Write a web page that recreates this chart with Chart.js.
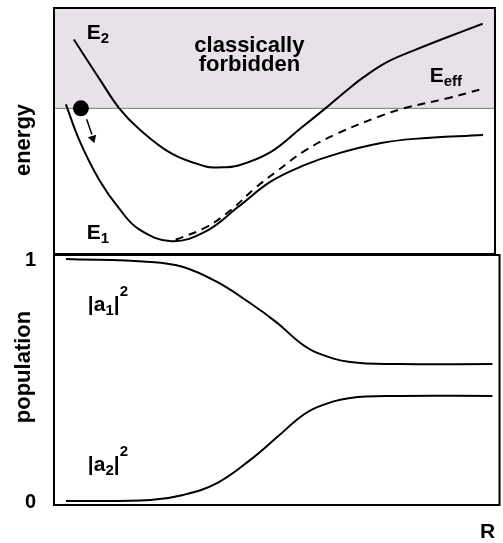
<!DOCTYPE html>
<html>
<head>
<meta charset="utf-8">
<script src="https://cdn.jsdelivr.net/npm/chart.js@4.4.1/dist/chart.umd.min.js"></script>
<style>
  html, body { margin: 0; padding: 0; background: #fff; }
  #wrap { position: relative; width: 503px; height: 543px; }
  #energyChart { position: absolute; left: 0; top: 0; }
  #popChart { position: absolute; left: 0; top: 230px; }
</style>
</head>
<body>
<div id="wrap">
  <canvas id="energyChart" width="503" height="262"></canvas>
  <canvas id="popChart" width="503" height="313"></canvas>
</div>
<script>
// Data (R in arbitrary units 0..10)
const e1R = [0.27, 0.58, 1.03, 1.48, 1.93, 2.67, 3.44, 4.18, 4.92, 5.69, 6.43, 7.39, 8.16, 9.73];
const e1Energy = [6.08, 4.6, 3.0, 1.84, 1.0, 0.52, 0.92, 1.92, 2.95, 3.62, 4.08, 4.5, 4.68, 4.84];

const e2R = [0.45, 1.03, 1.48, 1.93, 2.67, 3.44, 3.69, 4.18, 4.92, 5.6, 6.16, 6.65, 7.03, 7.55, 8.15, 8.9, 9.72];
const e2Energy = [8.72, 7.12, 5.92, 5.08, 4.08, 3.56, 3.52, 3.6, 4.15, 5.12, 5.93, 6.67, 7.2, 7.8, 8.27, 8.8, 9.36];

const effR = [2.76, 3.44, 4.02, 4.56, 5.08, 5.69, 6.43, 7.39, 7.93, 8.9, 9.73];
const effEnergy = [0.58, 1.08, 1.8, 2.68, 3.4, 4.2, 4.9, 5.6, 5.92, 6.32, 6.72];

const forbiddenR = [0, 10];
const forbiddenEnergy = [5.92, 5.92];

const ballR = [0.61];
const ballEnergy = [5.92];
const arrowR = [0.74, 0.86, 0.88];
const arrowEnergy = [5.48, 4.86, 4.7];

const popR = [0.27, 2.16, 2.9, 3.66, 4.4, 5.01, 5.53, 5.91, 6.65, 7.78, 9.84];
const a1Pop = [1.0, 0.988, 0.967, 0.905, 0.818, 0.736, 0.653, 0.612, 0.574, 0.566, 0.566];
const a2Pop = [0.0, 0.004, 0.025, 0.074, 0.169, 0.264, 0.347, 0.388, 0.426, 0.434, 0.434];

const popTicks = [0, 1];

const FONT = '"Liberation Sans", Arial, Helvetica, sans-serif';

// labels anchored in data space
const energyLabels = [
    { r: 0.74, v: 8.72, parts: [{ t: 'E' }, { t: '2', sub: true }] },
    { r: 0.74, v: 0.6, parts: [{ t: 'E' }, { t: '1', sub: true }] },
    { r: 8.52, v: 7.0, parts: [{ t: 'E' }, { t: 'eff', sub: true }] }
];
const forbiddenText = [
    { r: 4.43, v: 8.2, t: 'classically' },
    { r: 4.43, v: 7.44, t: 'forbidden' }
];
const popLabels = [
    { r: 0.76, v: 0.785, parts: [{ t: '|a' }, { t: '1', sub: true }, { t: '|' }, { t: '2', sup: true }] },
    { r: 0.76, v: 0.124, parts: [{ t: '|a' }, { t: '2', sub: true }, { t: '|' }, { t: '2', sup: true }] }
];

function pairs(xs, ys) {
    return xs.map((x, i) => ({ x: x, y: ys[i] }));
}

function drawRich(ctx, x, y, parts) {
    let cx = x;
    parts.forEach(p => {
        const small = p.sub || p.sup;
        ctx.font = `bold ${small ? 15 : 21}px ${FONT}`;
        const dy = p.sub ? 4 : (p.sup ? -15 : 0);
        ctx.fillText(p.t, cx, y + dy);
        cx += ctx.measureText(p.t).width;
    });
}

function drawVertical(ctx, text, x, y) {
    ctx.save();
    ctx.translate(x, y);
    ctx.rotate(-Math.PI / 2);
    ctx.font = `bold 22px ${FONT}`;
    ctx.textAlign = 'center';
    ctx.textBaseline = 'alphabetic';
    ctx.fillText(text, 0, 0);
    ctx.restore();
}

// box around the plot area
const framePlugin = {
    id: 'frame',
    afterDraw(chart) {
        const { ctx, chartArea: a } = chart;
        ctx.save();
        ctx.strokeStyle = '#000';
        ctx.lineWidth = 2;
        ctx.strokeRect(a.left, a.top, a.right - a.left, a.bottom - a.top);
        ctx.restore();
    }
};

const energyText = {
    id: 'energyText',
    afterDraw(chart) {
        const { ctx, chartArea: a } = chart;
        const xs = chart.scales.x, ys = chart.scales.y;
        ctx.save();
        ctx.fillStyle = '#000';
        ctx.textBaseline = 'alphabetic';
        ctx.textAlign = 'left';
        energyLabels.forEach(l => drawRich(ctx, xs.getPixelForValue(l.r), ys.getPixelForValue(l.v), l.parts));
        ctx.textAlign = 'center';
        ctx.font = `bold 22px ${FONT}`;
        forbiddenText.forEach(l => ctx.fillText(l.t, xs.getPixelForValue(l.r), ys.getPixelForValue(l.v)));
        ctx.restore();
        drawVertical(ctx, 'energy', 30, a.top + 132);
    }
};

const popText = {
    id: 'popText',
    afterDraw(chart) {
        const { ctx, chartArea: a } = chart;
        const xs = chart.scales.x, ys = chart.scales.y;
        ctx.save();
        ctx.fillStyle = '#000';
        ctx.textBaseline = 'alphabetic';
        ctx.textAlign = 'left';
        popLabels.forEach(l => drawRich(ctx, xs.getPixelForValue(l.r), ys.getPixelForValue(l.v), l.parts));
        ctx.font = `bold 21px ${FONT}`;
        ctx.fillText('R', 480, a.bottom + 33);
        ctx.restore();
        drawVertical(ctx, 'population', 30, a.top + 112);
    }
};

const curve = {
    borderColor: '#000',
    borderWidth: 2,
    pointRadius: 0,
    fill: false,
    tension: 0.4
};

new Chart(document.getElementById('energyChart'), {
    type: 'line',
    data: {
        datasets: [
            Object.assign({ label: 'E1', data: pairs(e1R, e1Energy) }, curve),
            Object.assign({ label: 'E2', data: pairs(e2R, e2Energy) }, curve),
            Object.assign({ label: 'Eeff', data: pairs(effR, effEnergy), borderDash: [8, 6] }, curve),
            {
                label: 'ball',
                data: pairs(ballR, ballEnergy),
                showLine: false,
                pointRadius: 8,
                pointBackgroundColor: '#000',
                pointBorderWidth: 0
            },
            {
                label: 'arrow',
                data: pairs(arrowR, arrowEnergy),
                borderColor: '#000',
                borderWidth: 1.5,
                pointRadius: [0, 0, 5],
                pointStyle: 'triangle',
                pointRotation: 162,
                pointBackgroundColor: '#000',
                pointBorderWidth: 0,
                segment: { borderColor: ctx => ctx.p1DataIndex === 2 ? 'transparent' : '#000' }
            },
            {
                label: 'forbidden',
                data: pairs(forbiddenR, forbiddenEnergy),
                borderColor: '#7a7a7a',
                borderWidth: 1,
                pointRadius: 0,
                backgroundColor: '#e6e2e8',
                fill: 'end',
                order: 5
            }
        ]
    },
    options: {
        responsive: false,
        animation: false,
        events: [],
        layout: { padding: { left: 54, right: 3.5, top: 5, bottom: 7 } },
        plugins: { legend: { display: false }, tooltip: { enabled: false } },
        scales: {
            x: { type: 'linear', min: 0, max: 10, display: false },
            y: { min: 0, max: 10, display: false }
        }
    },
    plugins: [framePlugin, energyText]
});

new Chart(document.getElementById('popChart'), {
    type: 'line',
    data: {
        datasets: [
            Object.assign({ label: '|a1|^2', data: pairs(popR, a1Pop) }, curve),
            Object.assign({ label: '|a2|^2', data: pairs(popR, a2Pop) }, curve)
        ]
    },
    options: {
        responsive: false,
        animation: false,
        events: [],
        layout: { padding: { left: 0, right: 3.5, top: 25, bottom: 38 } },
        plugins: { legend: { display: false }, tooltip: { enabled: false } },
        scales: {
            x: { type: 'linear', min: 0, max: 10, display: false },
            y: {
                min: -4 / 242,
                max: 1 + 4 / 242,
                afterFit(scale) { scale.width = 54; },
                afterBuildTicks(scale) { scale.ticks = popTicks.map(v => ({ value: v })); },
                grid: { display: false },
                border: { display: false },
                ticks: {
                    padding: 10,
                    color: '#000',
                    labelOffset: 1,
                    font: { family: FONT, size: 20, weight: 'bold' }
                }
            }
        }
    },
    plugins: [framePlugin, popText]
});
</script>
</body>
</html>
